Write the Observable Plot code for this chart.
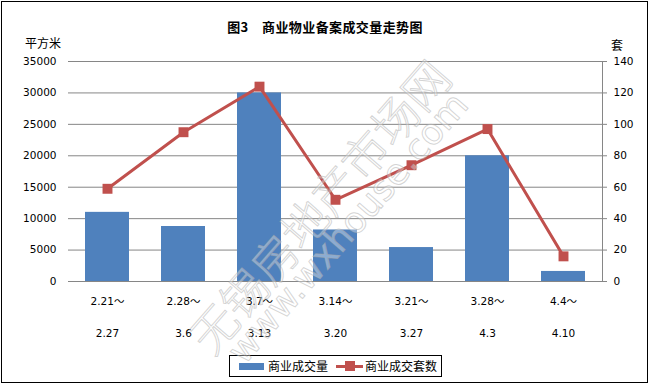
<!DOCTYPE html>
<html><head><meta charset="utf-8">
<script src="https://cdn.jsdelivr.net/npm/d3@7"></script>
<script src="https://cdn.jsdelivr.net/npm/@observablehq/plot@0.6"></script>
<style>
html,body{margin:0;padding:0;background:#fff;}
#wrap{position:relative;width:650px;height:385px;overflow:hidden;font-family:"DejaVu Sans","Noto Sans CJK SC",sans-serif;color:#000;}
#chart{position:absolute;left:0;top:0;}
#border{position:absolute;left:1px;top:1px;width:645px;height:380px;border:1px solid #000;pointer-events:none;}
.wm{position:absolute;white-space:nowrap;color:rgba(255,255,255,0.35);-webkit-text-stroke:1px rgba(170,170,170,0.5);transform:translate(-50%,-50%) rotate(-49deg);line-height:1;}
#wm1{left:318px;top:205px;font-size:46px;font-family:"Noto Sans CJK SC";font-weight:300;}
#wm2{left:348px;top:228px;font-size:36px;font-family:"DejaVu Sans";}
#title{position:absolute;left:0;width:650px;top:17px;text-align:center;font:bold 13px "Noto Sans CJK SC";letter-spacing:0.4px;}
#yl{position:absolute;left:25px;top:34px;font:12px "Noto Sans CJK SC";}
#yr{position:absolute;left:611px;top:36px;font:12px "Noto Sans CJK SC";}
#legend{position:absolute;left:229px;top:355px;width:211px;height:20px;border:1px solid #000;font:12px "Noto Sans CJK SC";}
#legend .sw{position:absolute;left:9px;top:7px;width:25px;height:7px;background:#4F81BD;}
#legend .t1{position:absolute;left:38px;top:2px;line-height:16px;}
#legend .ln{position:absolute;left:106px;top:9px;width:27px;height:3px;background:#C0504D;}
#legend .mk{position:absolute;left:115px;top:5px;width:10px;height:10px;background:#C0504D;}
#legend .t2{position:absolute;left:135px;top:2px;line-height:16px;}
</style></head><body>
<div id="wrap">
  <div id="chart"></div>
  <div id="title">图3　商业物业备案成交量走势图</div>
  <div id="yl">平方米</div>
  <div id="yr">套</div>
  <div id="legend"><div class="sw"></div><div class="t1">商业成交量</div><div class="ln"></div><div class="mk"></div><div class="t2">商业成交套数</div></div>
  <div class="wm" id="wm1">无锡房地产市场网</div>
  <div class="wm" id="wm2">www.wxhouse.com</div>
  <div id="border"></div>
</div>
<script>
const categories = ["2.21～2.27","2.28～3.6","3.7～3.13","3.14～3.20","3.21～3.27","3.28～4.3","4.4～4.10"];
const startLabels = ["2.21～","2.28～","3.7～","3.14～","3.21～","3.28～","4.4～"];
const endLabels = ["2.27","3.6","3.13","3.20","3.27","4.3","4.10"];
const areaValues = [11000, 8750, 30000, 8200, 5400, 20000, 1600];   // 商业成交量 (平方米)
const unitValues = [59, 95, 124, 52, 74, 97, 16];                   // 商业成交套数 (套)
const leftTicks = [0, 5000, 10000, 15000, 20000, 25000, 30000, 35000];
const rightTicks = [0, 20, 40, 60, 80, 100, 120, 140];

const ratio = 35000 / 140;
const data = categories.map((c, i) => ({c, area: areaValues[i], units: unitValues[i], scaled: unitValues[i] * ratio}));
const idx = d => categories.indexOf(d);

const chart = Plot.plot({
  width: 650,
  height: 385,
  marginLeft: 68,
  marginRight: 48,
  marginTop: 61,
  marginBottom: 104,
  style: {fontFamily: '"DejaVu Sans","Noto Sans CJK SC",sans-serif', fontSize: "10.5px", color: "#000", background: "transparent"},
  x: {domain: categories, paddingInner: 0.42, paddingOuter: 0.21, axis: null},
  y: {domain: [0, 35000], axis: null},
  marks: [
    Plot.ruleY(leftTicks, {stroke: "#868686", strokeWidth: 1}),
    Plot.barY(data, {x: "c", y: "area", fill: "#4F81BD"}),
    Plot.frame({anchor: "right", stroke: "#868686"}),
    Plot.line(data, {x: "c", y: "scaled", stroke: "#C0504D", strokeWidth: 3}),
    Plot.dot(data, {x: "c", y: "scaled", symbol: "square", r: 5.6, fill: "#C0504D", stroke: "none"}),
    Plot.axisY({anchor: "left", ticks: leftTicks, tickFormat: d => String(d), tickSize: 0, tickPadding: 12, label: null}),
    Plot.axisY({anchor: "right", ticks: rightTicks.map(d => d * ratio), tickFormat: d => String(d / ratio), tickSize: 4, tickPadding: 7, stroke: "#868686", fill: "#000", label: null}),
    Plot.axisX({tickSize: 0, tickPadding: 16, tickFormat: d => startLabels[idx(d)], label: null}),
    Plot.axisX({tickSize: 0, tickPadding: 48, tickFormat: d => endLabels[idx(d)], label: null})
  ]
});
document.getElementById("chart").appendChild(chart);
</script>
</body></html>
